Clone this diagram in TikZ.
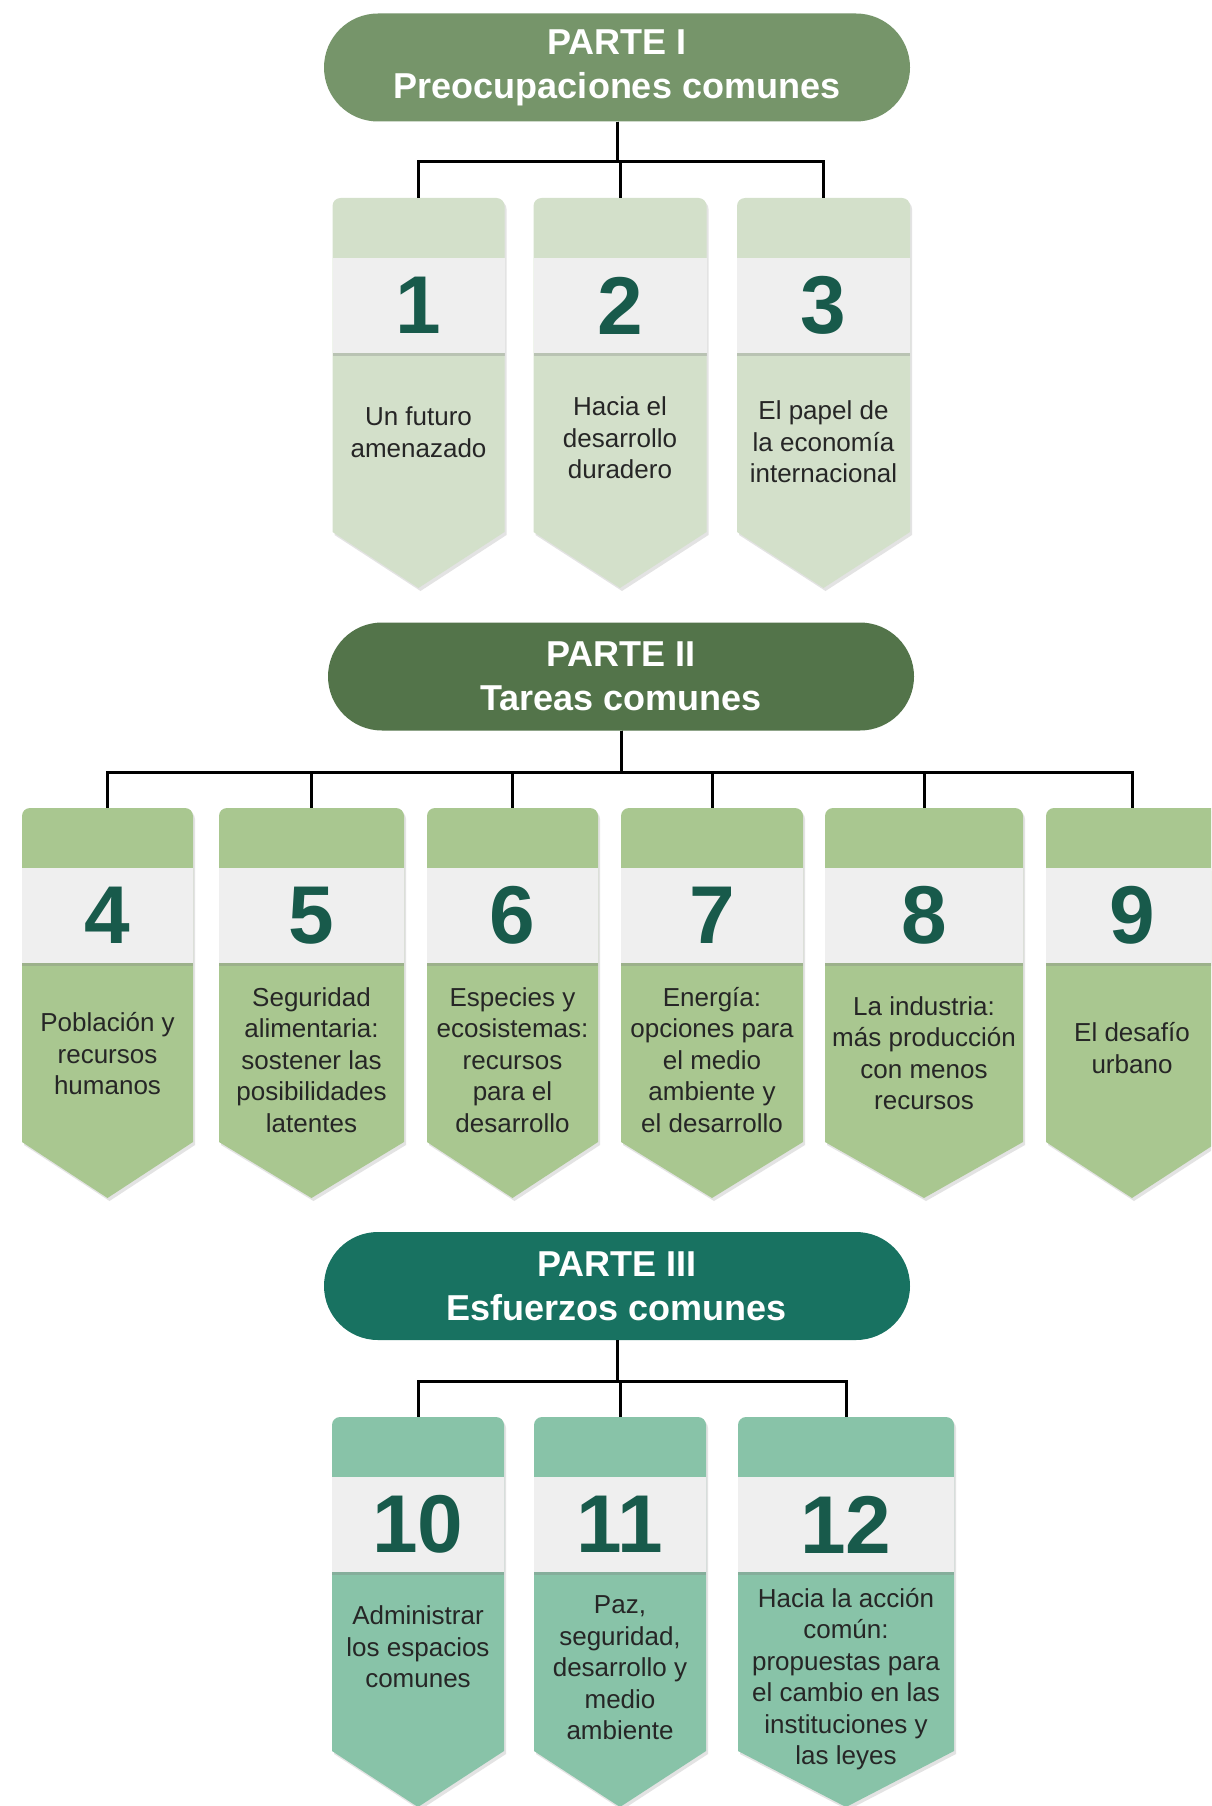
\documentclass[tikz,border=0pt]{standalone}
\usepackage{fontspec}
\setmainfont{Liberation Sans}
\usetikzlibrary{shadows}
\usetikzlibrary{positioning}
\usetikzlibrary{calc}
\definecolor{parteI}{HTML}{76956A}
\definecolor{parteII}{HTML}{53744A}
\definecolor{parteIII}{HTML}{187261}
\definecolor{hojaI}{HTML}{D3E0CA}
\definecolor{hojaII}{HTML}{A9C790}
\definecolor{hojaIII}{HTML}{88C3A8}
\definecolor{banda}{HTML}{EFEFEF}
\definecolor{cifra}{HTML}{185A4B}
\tikzstyle{parte}=[rectangle,rounded corners=54pt,minimum width=586pt,minimum height=108pt,text=white,align=center,font=\fontsize{36}{44}\selectfont\bfseries]
\tikzstyle{numband}=[rectangle,fill=banda,minimum height=95pt,inner sep=0pt,text=cifra,font=\fontsize{82}{82}\selectfont\bfseries,drop shadow={shadow xshift=0pt,shadow yshift=-3pt,opacity=.3}]
\tikzstyle{cardtext}=[align=center,text=black!85,font=\fontsize{26}{31.5}\selectfont]
\tikzstyle{hoja}=[drop shadow={shadow xshift=2pt,shadow yshift=-3pt,opacity=.22}]
\tikzstyle{link}=[line width=3pt,black]

\begin{document}
\begin{tikzpicture}[x=1pt,y=-1pt]
\useasboundingbox (0,0) rectangle (1211,1806);
\clip (0,0) rectangle (1211,1806);
\fill[white] (0,0) rectangle (1211,1806);

% partes
\node[parte,fill=parteI] (p1) at (617,67.5) {PARTE I\\Preocupaciones comunes};
\node[parte,fill=parteII] (p2) at (621,676.5) {PARTE II\\Tareas comunes};
\node[parte,fill=parteIII] (p3) at (617,1286) {PARTE III\\Esfuerzos comunes};

% capitulos
\foreach \n/\cx/\w/\yt/\col/\yx/\txt in {
    1/418.5/172/198/hojaI/432/{Un futuro\\amenazado},
    2/620/173/198/hojaI/438/{Hacia el\\desarrollo\\duradero},
    3/823.5/173/198/hojaI/442/{El papel de\\la economía\\internacional},
    4/107.5/171/808/hojaII/1054/{Población y\\recursos\\humanos},
    5/311.5/185/808/hojaII/1060/{Seguridad\\alimentaria:\\sostener las\\posibilidades\\latentes},
    6/512.5/171/808/hojaII/1060/{Especies y\\ecosistemas:\\recursos\\para el\\desarrollo},
    7/712/182/808/hojaII/1060/{Energía:\\opciones para\\el medio\\ambiente y\\el desarrollo},
    8/924/198/808/hojaII/1053/{La industria:\\más producción\\con menos\\recursos},
    9/1132/172/808/hojaII/1048/{El desafío\\urbano},
    10/418/172/1417/hojaIII/1647/{Administrar\\los espacios\\comunes},
    11/620/172/1417/hojaIII/1668/{Paz,\\seguridad,\\desarrollo y\\medio\\ambiente},
    12/846/216/1417/hojaIII/1679/{Hacia la acción\\común:\\propuestas para\\el cambio en las\\instituciones y\\las leyes}}
{
    \fill[hoja,fill=\col] (\cx-\w/2,\yt+334) -- (\cx-\w/2,\yt+8) arc[start angle=180,end angle=90,radius=8pt]
        -- (\cx+\w/2-8,\yt) arc[start angle=90,end angle=0,radius=8pt] -- (\cx+\w/2,\yt+334) -- (\cx,\yt+390) -- cycle;
    \coordinate (k\n) at (\cx,\yt);
    \node[numband,minimum width=\w pt] (n\n) at (\cx,\yt+107.5) {\n};
    \node[cardtext] (t\n) at (\cx,\yx) {\txt};
}

% conectores
\coordinate (b1) at (0,162);
\coordinate (b2) at (0,772);
\coordinate (b3) at (0,1381);
\foreach \i in {1,2,3}
    \draw[link] (p1.south) -- (p1.south |- b1) -| (k\i);
\foreach \i in {4,...,9}
    \draw[link] (p2.south) -- (p2.south |- b2) -| (k\i);
\foreach \i in {10,11,12}
    \draw[link] (p3.south) -- (p3.south |- b3) -| (k\i);

\end{tikzpicture}
\end{document}
